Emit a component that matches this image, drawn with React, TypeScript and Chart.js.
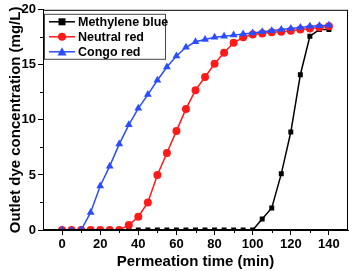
import React, { useEffect, useRef } from "react";
import { Chart, registerables } from "chart.js";

Chart.register(...registerables);

const times = [0, 5, 10, 15, 20, 25, 30, 35, 40, 45, 50, 55, 60, 65, 70, 75, 80, 85, 90, 95, 100, 105, 110, 115, 120, 125, 130, 135, 140];
const methyleneBlue = [0, 0, 0, 0, 0, 0, 0, 0, 0, 0, 0, 0, 0, 0, 0, 0, 0, 0, 0, 0, 0, 1.0, 2.0, 5.1, 8.9, 14.1, 17.6, 18.2, 18.2];
const neutralRed = [0, 0, 0, 0, 0, 0, 0, 0.45, 1.2, 2.5, 5.0, 7.0, 9.0, 11.0, 12.7, 13.9, 15.1, 16.1, 17.0, 17.5, 17.75, 17.85, 17.95, 18.0, 18.1, 18.2, 18.3, 18.4, 18.5];
const congoRed = [0, 0, 0, 1.6, 4.0, 5.8, 7.8, 9.55, 11.05, 12.3, 13.6, 14.8, 15.8, 16.6, 17.1, 17.3, 17.5, 17.6, 17.7, 17.8, 17.9, 18.0, 18.1, 18.2, 18.3, 18.4, 18.5, 18.55, 18.6];
const xTicks = [0, 20, 40, 60, 80, 100, 120, 140];
const yTicks = [0, 5, 10, 15, 20];
const seriesNames = ["Methylene blue", "Neutral red", "Congo red"];

const BLACK = "#000000";
const RED = "#ff1a1a";
const BLUE = "#2a4dff";
const FONT = "'Liberation Sans', Arial, sans-serif";

const frameAndLegend = {
  id: "frameAndLegend",
  afterDraw(chart: any) {
    const { ctx, chartArea: a, scales } = chart;
    ctx.save();
    ctx.strokeStyle = "#000";
    ctx.lineWidth = 1;
    ctx.strokeRect(a.left + 0.5, a.top + 0.5, a.right - a.left - 1, a.bottom - a.top - 1);
    const xs = scales.x;
    const ys = scales.y;
    ctx.beginPath();
    for (let i = 0; i < xTicks.length - 1; i++) {
      const v = (xTicks[i] + xTicks[i + 1]) / 2;
      const px = Math.round(xs.getPixelForValue(v)) + 0.5;
      ctx.moveTo(px, a.bottom);
      ctx.lineTo(px, a.bottom + 3);
    }
    for (let i = 0; i < yTicks.length - 1; i++) {
      const v = (yTicks[i] + yTicks[i + 1]) / 2;
      const py = Math.round(ys.getPixelForValue(v)) + 0.5;
      ctx.moveTo(a.left, py);
      ctx.lineTo(a.left - 3, py);
    }
    ctx.stroke();
    // legend
    const lx = a.left + 1;
    const ly = a.top + 4;
    ctx.strokeStyle = "#444";
    ctx.strokeRect(lx + 0.5, ly + 0.5, 121, 45);
    const colors = [BLACK, RED, BLUE];
    const styles = ["rect", "circle", "triangle"];
    ctx.font = `bold 12.5px ${FONT}`;
    ctx.textBaseline = "middle";
    ctx.textAlign = "left";
    seriesNames.forEach((name, i) => {
      const y = ly + 8 + i * 15;
      ctx.strokeStyle = colors[i];
      ctx.lineWidth = 1.5;
      ctx.beginPath();
      ctx.moveTo(lx + 5, y);
      ctx.lineTo(lx + 31, y);
      ctx.stroke();
      ctx.fillStyle = colors[i];
      ctx.beginPath();
      const cx = lx + 18;
      if (styles[i] === "rect") {
        ctx.rect(cx - 3.5, y - 3.5, 7, 7);
      } else if (styles[i] === "circle") {
        ctx.arc(cx, y, 4, 0, Math.PI * 2);
      } else {
        const r = 4.5;
        ctx.moveTo(cx, y - r);
        ctx.lineTo(cx + r, y + r * 0.8);
        ctx.lineTo(cx - r, y + r * 0.8);
        ctx.closePath();
      }
      ctx.fill();
      ctx.fillStyle = "#000";
      ctx.fillText(name, lx + 34, y + 0.5);
    });
    ctx.restore();
  },
};

export default function App() {
  const ref = useRef<HTMLCanvasElement>(null);
  useEffect(() => {
    document.body.style.margin = "0";
    const tickFont = { family: FONT, size: 13, weight: "bold" as const };
    const titleFont = { family: FONT, size: 15, weight: "bold" as const };
    const mk = (label: string, vals: number[], color: string, style: string, r: number, order: number) => ({
      label,
      data: times.map((t, i) => ({ x: t, y: vals[i] })),
      borderColor: color,
      backgroundColor: color,
      pointStyle: style,
      pointRadius: r,
      pointBorderWidth: 0,
      borderWidth: 1.5,
      order,
    });
    const chart = new Chart(ref.current!, {
      type: "line",
      data: {
        datasets: [
          mk(seriesNames[0], methyleneBlue, BLACK, "rect", 3.5, 2),
          mk(seriesNames[1], neutralRed, RED, "circle", 4, 1),
          mk(seriesNames[2], congoRed, BLUE, "triangle", 4.5, 0),
        ] as any,
      },
      options: {
        responsive: false,
        animation: false,
        layout: { padding: { top: 7, right: 5, left: 7, bottom: 0 } },
        plugins: { legend: { display: false }, tooltip: { enabled: false } },
        scales: {
          x: {
            type: "linear",
            min: -10,
            max: 150,
            afterBuildTicks: (s: any) => {
              s.ticks = xTicks.map((v) => ({ value: v }));
            },
            afterFit: (s: any) => {
              s.height = 41;
            },
            border: { display: true, color: "#000", width: 1 },
            grid: { drawOnChartArea: false, tickLength: 5, color: "#000" },
            ticks: { font: tickFont, color: "#000", padding: 2, maxRotation: 0 },
            title: { display: true, text: "Permeation time (min)", font: titleFont, color: "#000", padding: { top: 0, bottom: 0 } },
          },
          y: {
            type: "linear",
            min: 0,
            max: 20,
            afterBuildTicks: (s: any) => {
              s.ticks = yTicks.map((v) => ({ value: v }));
            },
            afterFit: (s: any) => {
              s.width = 36;
            },
            border: { display: true, color: "#000", width: 1 },
            grid: { drawOnChartArea: false, tickLength: 5, color: "#000" },
            ticks: { font: tickFont, color: "#000", padding: 2 },
            title: { display: true, text: "Outlet dye concentration (mg/L)", font: titleFont, color: "#000", padding: { top: 0, bottom: 0 } },
          },
        },
      },
      plugins: [frameAndLegend],
    });
    return () => chart.destroy();
  }, []);
  return (
    <div style={{ width: 353, height: 271 }}>
      <canvas ref={ref} width={353} height={271} style={{ display: "block" }} />
    </div>
  );
}
